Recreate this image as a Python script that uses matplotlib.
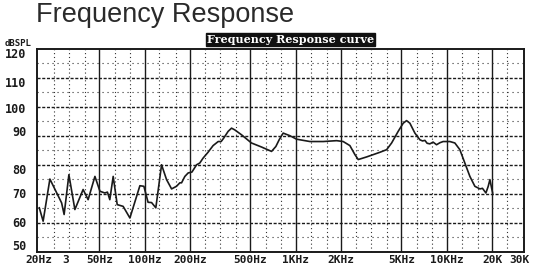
"""Loudspeaker frequency response chart (scanned-datasheet look)."""

import matplotlib
matplotlib.use("Agg")
import matplotlib.pyplot as plt
from matplotlib.transforms import blended_transform_factory

freq_hz = [20, 21.2, 23.5, 28.1, 29.2, 31.4, 34.4, 39.0, 42.1, 46.7, 50.4,
           54.3, 56.5, 58.6, 61.7, 65.6, 71.8, 79.6, 92.7, 98.5, 105, 110.8,
           118.2, 129, 139.2, 150.3, 162, 170.5, 175, 184, 193.6, 205, 220,
           231, 243, 262, 283, 306, 320, 333, 356, 375, 394, 437, 508, 593,
           690, 737, 775, 824, 913, 1011, 1239, 1517, 1861, 2057, 2278, 2460,
           2588, 2940, 3600, 3990, 4305, 4758, 5137, 5406, 5689, 6138, 6625,
           6900, 7150, 7400, 7716, 8100, 8541, 9000, 9447, 10467, 11290, 12186,
           13150, 14200, 15320, 16540, 17200, 18130, 18780, 19270, 19770, 20090]
spl_db = [65.2, 60.6, 75.1, 66.9, 62.9, 76.6, 64.6, 71.5, 68.0, 76.0, 70.9,
          70.3, 70.6, 68.0, 76.0, 66.3, 65.7, 61.7, 72.8, 72.6, 67.1, 67.0,
          65.2, 80.0, 74.9, 71.7, 72.6, 73.8, 73.8, 76.0, 77.2, 77.5, 80.0,
          80.6, 82.3, 84.3, 86.6, 88.0, 88.0, 89.2, 91.5, 92.6, 92.0, 90.3,
          87.5, 86.1, 84.6, 86.3, 88.6, 90.9, 90.0, 88.8, 88.0, 88.0, 88.3,
          88.0, 86.6, 83.5, 81.8, 82.7, 84.3, 85.2, 87.5, 91.5, 94.3, 95.2,
          94.3, 90.9, 88.6, 88.2, 88.4, 87.4, 87.2, 87.8, 86.9, 87.6, 88.0,
          88.0, 87.5, 85.2, 80.6, 76.0, 72.6, 71.7, 71.9, 70.3, 72.6, 74.9,
          72.0, 70.3]

# Axis labelling
x_label_freqs = [20, 30, 50, 100, 200, 500, 1000, 2000, 5000, 10000, 20000, 30000]
x_label_texts = ["20Hz", "3", "50Hz", "100Hz", "200Hz", "500Hz", "1KHz",
                 "2KHz", "5KHz", "10KHz", "20K", "30K"]
y_label_values = [120, 110, 100, 90, 80, 70, 60, 50]
# where each printed label actually sits on the scan (dB units)
y_label_pos = [118.1, 108.1, 98.9, 91.1, 78.0, 69.7, 59.8, 52.0]

# Grid layout
major_vlines = [50, 100, 200, 500, 1000, 2000, 5000, 10000, 20000]
minor_vlines = [25, 31.5, 40, 63, 80, 125, 160, 250, 315, 400, 630, 800,
                1250, 1600, 2500, 3150, 4000, 6300, 8000, 12500, 16000, 25000]
major_hlines = [60, 70, 80, 90, 100, 110]
minor_hlines = [55, 65, 75, 85, 95, 105, 115]

INK = "#1a1a1a"
MONO = "DejaVu Sans Mono"

fig = plt.figure(figsize=(5.33, 2.69), dpi=100)
ax = fig.add_axes([0.0700, 0.0632, 0.9131, 0.7565])

ax.set_xscale("log")
ax.set_xlim(19.4, 32400)
ax.set_ylim(50, 120)

# grid
for f in minor_vlines:
    ax.axvline(f, color="#333333", lw=0.8, ls=(0, (1, 2.5)), zorder=1)
for f in major_vlines:
    ax.axvline(f, color=INK, lw=1.0, zorder=1)
for v in minor_hlines:
    ax.axhline(v, color="#333333", lw=0.8, ls=(0, (1, 3.5)), zorder=1)
for v in major_hlines:
    ax.axhline(v, color=INK, lw=1.0, ls=(0, (2.2, 1.2)), zorder=1)

# response curve
ax.plot(freq_hz, spl_db, color=INK, lw=1.2, zorder=3)

# frame
for s in ax.spines.values():
    s.set_linewidth(1.4)
    s.set_color(INK)

# x tick labels
ax.set_xticks(x_label_freqs)
ax.set_xticklabels(x_label_texts, fontfamily=MONO, fontweight="bold",
                   fontsize=8, color=INK)
ax.xaxis.set_minor_locator(plt.NullLocator())
ax.tick_params(axis="x", length=0, pad=2.5)

# y tick labels drawn by hand (they are offset from their lines on the scan)
ax.set_yticks([])
trans = blended_transform_factory(ax.transAxes, ax.transData)
for val, pos in zip(y_label_values, y_label_pos):
    ax.text(-0.022, pos, str(val), transform=trans, ha="right", va="center",
            fontfamily=MONO, fontweight="bold", fontsize=8.5, color=INK)

fig.text(0.009, 0.840, "dBSPL", ha="left", va="center", fontfamily=MONO,
         fontweight="bold", fontsize=6.5, color=INK)

# header box
fig.text(0.545, 0.853, "Frequency Response curve", ha="center", va="center",
         fontfamily="DejaVu Serif", fontweight="bold", fontsize=8,
         color="white",
         bbox=dict(boxstyle="square,pad=0.12", facecolor="#111111",
                   edgecolor="#111111"))

fig.text(0.067, 0.918, "Frequency Response", ha="left", va="baseline",
         fontfamily="Liberation Sans", fontsize=19.5, color="#2a2a2a")

fig.savefig("out.png", dpi=100, facecolor="white")
